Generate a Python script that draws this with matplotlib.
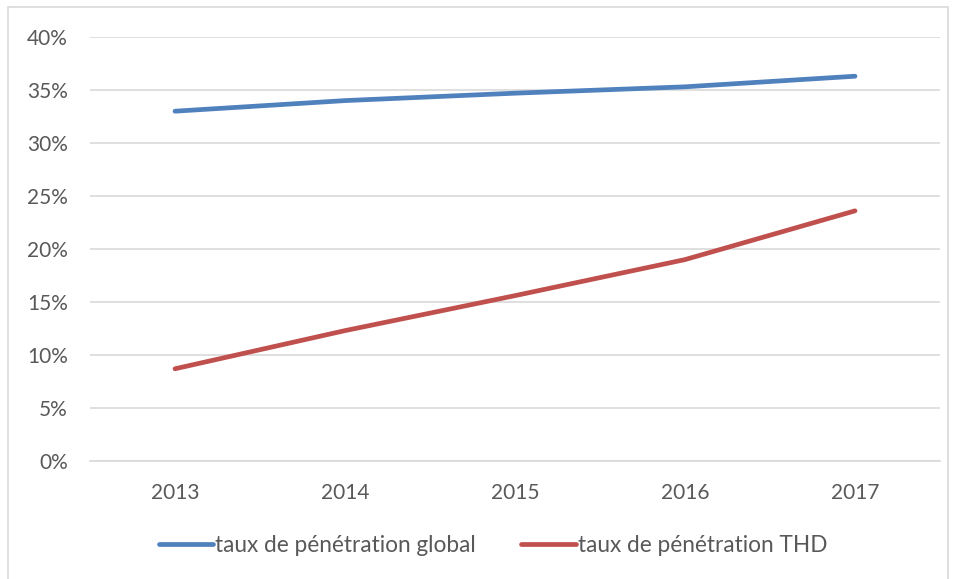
import matplotlib
matplotlib.use("Agg")
import matplotlib.pyplot as plt
from matplotlib.patches import Rectangle
from matplotlib.ticker import FuncFormatter

years = ["2013", "2014", "2015", "2016", "2017"]
taux_global = [33.0, 34.0, 34.7, 35.3, 36.3]
taux_thd = [8.7, 12.3, 15.6, 19.0, 23.6]

plt.rcParams["font.family"] = ["Lato", "DejaVu Sans"]
TEXT = "#595959"
FS = 15

fig = plt.figure(figsize=(9.57, 5.79), dpi=100)
fig.patches.append(Rectangle((8 / 957, -0.1), 940 / 957, 1.1 - 7 / 579,
                             transform=fig.transFigure, fill=False,
                             edgecolor="#d9d9d9", linewidth=1.2))

ax = fig.add_axes([90 / 957, 1 - 461 / 579, 850 / 957, 424 / 579])
x = list(range(len(years)))
ax.plot(x, taux_global, color="#4f81bd", linewidth=3.4, solid_capstyle="round",
        label="taux de pénétration global")
ax.plot(x, taux_thd, color="#c0504d", linewidth=3.4, solid_capstyle="round",
        label="taux de pénétration THD")

ax.set_xlim(-0.5, 4.5)
ax.set_ylim(0, 40)
ax.set_yticks(range(0, 41, 5))
ax.yaxis.set_major_formatter(FuncFormatter(lambda v, p: f"{int(v)}%"))
ax.set_xticks(x)
ax.set_xticklabels(years)
ax.grid(axis="y", color="#d9d9d9", linewidth=1.2)
ax.set_axisbelow(True)
for side in ["top", "right", "left"]:
    ax.spines[side].set_visible(False)
ax.spines["bottom"].set_color("#d9d9d9")
ax.spines["bottom"].set_linewidth(1.2)
ax.tick_params(length=0, labelsize=FS, colors=TEXT, pad=16)
ax.tick_params(axis="x", pad=16)

leg = fig.legend(loc="center", bbox_to_anchor=(493 / 957, 1 - 545 / 579), ncol=2,
                 frameon=False, fontsize=16.3, handlelength=2.4,
                 handletextpad=0.1, columnspacing=2.0)
for t in leg.get_texts():
    t.set_color(TEXT)

fig.savefig("out.png", dpi=100)
